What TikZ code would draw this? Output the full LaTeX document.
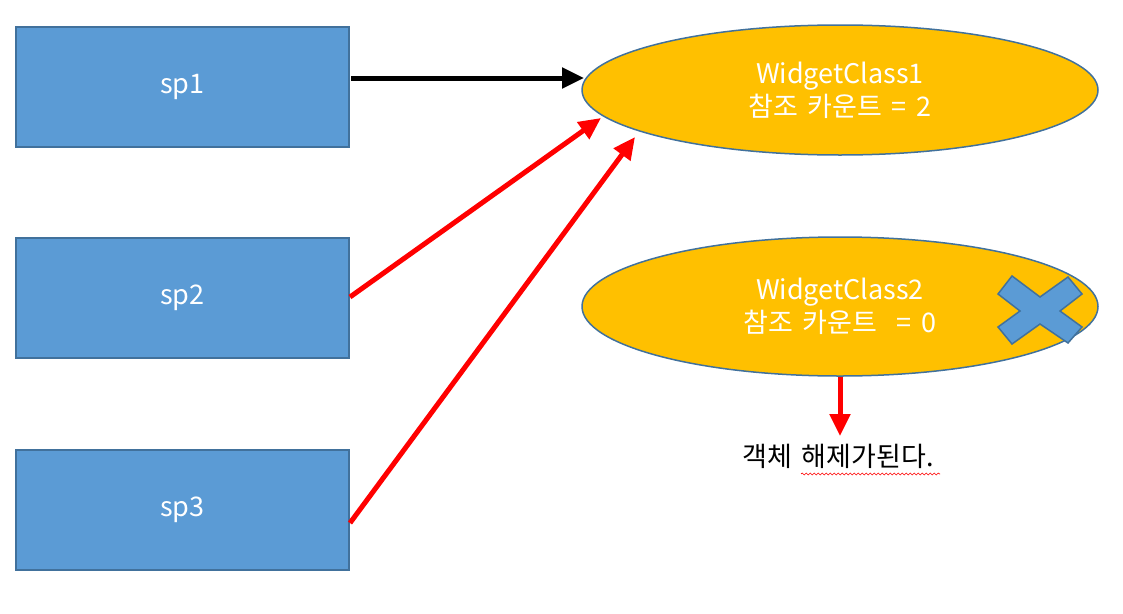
\documentclass[tikz,border=0pt]{standalone}
\usepackage{fontspec}
\setmainfont{Noto Sans CJK KR}[WordSpace=1.6]
\usetikzlibrary{shapes.geometric,arrows.meta,calc,decorations.pathmorphing}
\definecolor{boxfill}{HTML}{5B9BD5}
\definecolor{boxline}{HTML}{41719C}
\definecolor{ellfill}{HTML}{FFC000}
\tikzset{
  spbox/.style={draw=boxline,line width=1.5pt,fill=boxfill,minimum width=333pt,minimum height=120pt,inner sep=0pt,text=white,font=\fontsize{27}{33}\selectfont},
  widget/.style={ellipse,draw=boxline,line width=1.5pt,fill=ellfill,minimum width=516pt,minimum height=130pt,inner sep=0pt,text=white,align=center,font=\fontsize{27}{33}\selectfont},
  blackarrow/.style={line width=5pt,-{Triangle[length=22pt,width=20pt]}},
  redarrow/.style={red,line width=5pt,-{Triangle[length=22pt,width=20pt]}},
}
\begin{document}
\begin{tikzpicture}[x=1pt,y=-1pt]
\useasboundingbox (0,0) rectangle (1123,613);
\node[spbox] (sp1) at (182.5,87) {sp1};
\node[spbox] (sp2) at (182.5,298) {sp2};
\node[spbox] (sp3) at (182.5,510) {sp3};
\node[widget] (w1) at (840,90) {WidgetClass1\\참조 카운트 = 2};
\node[widget,minimum height=139pt] (w2) at (840,306.5) {WidgetClass2\\참조 카운트 \ = 0};
\node[font=\fontsize{27}{33}\selectfont,inner sep=0pt,anchor=base] (res) at (838,466) {객체 해제가된다.};
\coordinate (s1) at (351,78);
\coordinate (e1) at (584,78);
\coordinate (s2) at (350,297);
\coordinate (e2) at (601,118);
\coordinate (s3) at (350,523);
\coordinate (e3) at (635,137);
\coordinate (e4) at (840,436);
\draw[blackarrow] (s1) -- (e1);
\draw[redarrow] (s2) -- (e2);
\draw[redarrow] (s3) -- (e3);
\draw[redarrow] (w2.south) -- (e4);
\draw[red,line width=0.6pt,decoration={snake,amplitude=1pt,segment length=4pt},decorate] (801,474) -- (940,474);
\draw[draw=boxline,line width=1.5pt,fill=boxfill]
  (1012,276) -- (1040,297) -- (1068,277) -- (1082,294) -- (1060,311) -- (1082,327)
  -- (1068,343) -- (1040,324) -- (1012,344) -- (998,327) -- (1020,311) -- (998,294) -- cycle;
\end{tikzpicture}
\end{document}
